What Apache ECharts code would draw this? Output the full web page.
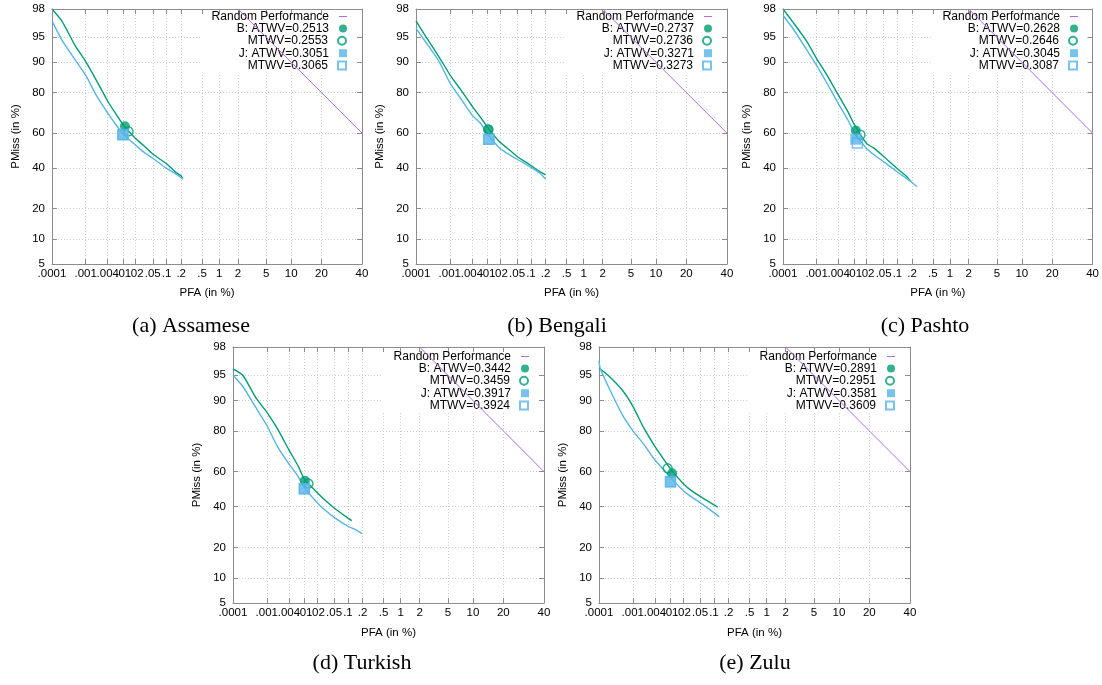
<!DOCTYPE html>
<html><head><meta charset="utf-8">
<script src="https://cdn.jsdelivr.net/npm/echarts@6/dist/echarts.min.js"></script>
<style>html,body{margin:0;padding:0;background:#fff}#c{width:1102px;height:685px}</style>
</head><body><div id="c"></div><script>
// ---------- data (values in %) ----------
const pfaTicks = [0.0001, 0.001, 0.004, 0.01, 0.02, 0.05, 0.1, 0.2, 0.5, 1, 2, 5, 10, 20, 40];
const pfaTickLabels = ['.0001', '.001', '.004', '.01', '.02', '.05', '.1', '.2', '.5', '1', '2', '5', '10', '20', '40'];
const pmissTicks = [5, 10, 20, 40, 60, 80, 90, 95, 98];
const pmissTickLabels = ['5', '10', '20', '40', '60', '80', '90', '95', '98'];
const captions = ['(a) Assamese', '(b) Bengali', '(c) Pashto', '(d) Turkish', '(e) Zulu'];
const randomLabel = 'Random Performance';
const randomPFA = [2, 40];
const randomPMiss = [98, 60];

// Assamese
const assameseB_pfa   = [0.0001, 0.0002, 0.0005, 0.001, 0.002, 0.004, 0.007, 0.01, 0.02, 0.03, 0.05, 0.1, 0.15, 0.2, 0.215];
const assameseB_pmiss = [98, 97, 93.6, 90.2, 84.5, 76.3, 69.3, 64.5, 57, 53.2, 48, 42.4, 38, 35.6, 34];
const assameseJ_pfa   = [0.0001, 0.0002, 0.0005, 0.001, 0.002, 0.004, 0.007, 0.01, 0.02, 0.03, 0.05, 0.1, 0.15, 0.2, 0.215];
const assameseJ_pmiss = [97, 94.6, 90.6, 86.3, 78.7, 70.7, 63.8, 59.3, 53.2, 49.4, 45.6, 39.8, 37, 34.7, 34];
const assameseLabels  = ['B: ATWV=0.2513', 'MTWV=0.2553', 'J: ATWV=0.3051', 'MTWV=0.3065'];
const assamesePts_pfa   = [0.011, 0.0135, 0.0097, 0.0099];
const assamesePts_pmiss = [63.8, 61, 59, 59.2];

// Bengali
const bengaliB_pfa   = [0.0001, 0.0002, 0.0005, 0.001, 0.002, 0.004, 0.007, 0.01, 0.02, 0.03, 0.05, 0.1, 0.15, 0.2];
const bengaliB_pmiss = [97, 95.1, 91.2, 86.5, 81.2, 74.2, 68, 63.2, 54.9, 51.4, 46.6, 41.4, 38.2, 36.2];
const bengaliJ_pfa   = [0.0001, 0.0002, 0.0005, 0.001, 0.002, 0.004, 0.007, 0.01, 0.02, 0.03, 0.05, 0.1, 0.15, 0.2];
const bengaliJ_pmiss = [96.2, 94.2, 90.1, 83.8, 77.5, 69.8, 64.9, 59.4, 51.4, 48.4, 45, 40.4, 37.4, 34];
const bengaliLabels  = ['B: ATWV=0.2737', 'MTWV=0.2736', 'J: ATWV=0.3271', 'MTWV=0.3273'];
const bengaliPts_pfa   = [0.0105, 0.0105, 0.0108, 0.0108];
const bengaliPts_pmiss = [62, 62, 56.5, 56.5];

// Pashto
const pashtoB_pfa   = [0.0001, 0.0002, 0.0005, 0.001, 0.002, 0.004, 0.007, 0.01, 0.02, 0.03, 0.05, 0.1, 0.15, 0.19];
const pashtoB_pmiss = [98, 96.9, 94.5, 90.9, 86.1, 78.7, 71.3, 64.8, 54.2, 51.4, 46.6, 39.6, 35.8, 32.7];
const pashtoJ_pfa   = [0.0001, 0.0002, 0.0005, 0.001, 0.002, 0.004, 0.007, 0.01, 0.02, 0.03, 0.05, 0.1, 0.15, 0.2, 0.25];
const pashtoJ_pmiss = [97.5, 96.2, 93, 89.2, 83.3, 75, 67, 60.5, 51.2, 47.6, 43.6, 37.8, 34.6, 32.2, 30];
const pashtoLabels  = ['B: ATWV=0.2628', 'MTWV=0.2646', 'J: ATWV=0.3045', 'MTWV=0.3087'];
const pashtoPts_pfa   = [0.011, 0.0143, 0.011, 0.012];
const pashtoPts_pmiss = [61.5, 59.1, 56.6, 54.4];

// Turkish
const turkishB_pfa   = [0.0001, 0.0002, 0.0005, 0.001, 0.002, 0.004, 0.007, 0.01, 0.02, 0.03, 0.05, 0.1, 0.12];
const turkishB_pmiss = [95.9, 95, 90.5, 86.7, 80.7, 71.5, 62.9, 55.6, 48.2, 44, 39.3, 33.8, 32.5];
const turkishJ_pfa   = [0.0001, 0.0002, 0.0005, 0.001, 0.002, 0.004, 0.007, 0.01, 0.02, 0.03, 0.05, 0.1, 0.15, 0.195];
const turkishJ_pmiss = [95, 93.1, 87.9, 82.2, 72.9, 64.2, 57.1, 50.6, 42.5, 38.4, 34.2, 29.6, 27.7, 26];
const turkishLabels  = ['B: ATWV=0.3442', 'MTWV=0.3459', 'J: ATWV=0.3917', 'MTWV=0.3924'];
const turkishPts_pfa   = [0.0102, 0.0125, 0.0099, 0.0099];
const turkishPts_pmiss = [54.8, 53.2, 50.2, 50.2];

// Zulu
const zuluB_pfa   = [0.0001, 0.0002, 0.0005, 0.001, 0.002, 0.004, 0.007, 0.01, 0.02, 0.03, 0.05, 0.1, 0.12];
const zuluB_pmiss = [96, 94.9, 92.4, 88.5, 81.3, 73.2, 66.2, 61.5, 53.4, 49.6, 45.8, 41, 39.8];
const zuluJ_pfa   = [0.0001, 0.00011, 0.0002, 0.0005, 0.001, 0.002, 0.004, 0.007, 0.01, 0.02, 0.03, 0.05, 0.1, 0.13];
const zuluJ_pmiss = [96.8, 95.9, 92.9, 85.9, 80.1, 74.2, 66.3, 60.8, 56.6, 49.4, 46, 42.3, 36.7, 34.4];
const zuluLabels  = ['B: ATWV=0.2891', 'MTWV=0.2951', 'J: ATWV=0.3581', 'MTWV=0.3609'];
const zuluPts_pfa   = [0.011, 0.0085, 0.01, 0.01];
const zuluPts_pmiss = [59.1, 61.8, 54.2, 54.2];

// ---------- layout / style ----------
const panels = [
  {bp: assameseB_pfa, bm: assameseB_pmiss, jp: assameseJ_pfa, jm: assameseJ_pmiss, labels: assameseLabels, pp: assamesePts_pfa, pm: assamesePts_pmiss},
  {bp: bengaliB_pfa, bm: bengaliB_pmiss, jp: bengaliJ_pfa, jm: bengaliJ_pmiss, labels: bengaliLabels, pp: bengaliPts_pfa, pm: bengaliPts_pmiss},
  {bp: pashtoB_pfa, bm: pashtoB_pmiss, jp: pashtoJ_pfa, jm: pashtoJ_pmiss, labels: pashtoLabels, pp: pashtoPts_pfa, pm: pashtoPts_pmiss},
  {bp: turkishB_pfa, bm: turkishB_pmiss, jp: turkishJ_pfa, jm: turkishJ_pmiss, labels: turkishLabels, pp: turkishPts_pfa, pm: turkishPts_pmiss},
  {bp: zuluB_pfa, bm: zuluB_pmiss, jp: zuluJ_pfa, jm: zuluJ_pmiss, labels: zuluLabels, pp: zuluPts_pfa, pm: zuluPts_pmiss}
];
const boxes = [
  {left: 52, top: 9, width: 310, height: 255, capX: 191, capY: 326},
  {left: 416, top: 9, width: 311, height: 255, capX: 557, capY: 326},
  {left: 783, top: 9, width: 310, height: 255, capX: 925, capY: 326},
  {left: 233, top: 347, width: 311, height: 256, capX: 362, capY: 663},
  {left: 599, top: 347, width: 311, height: 256, capX: 755, capY: 663}
];
const GREEN = '#009e73', BLUE = '#56b4e9', PURPLE = 'rgb(179,106,226)';
const AXIS = '#8c8c8c', GRID = '#cfcfcf';
const FONT = 'Liberation Sans, Arial, sans-serif';

// inverse normal CDF (probit) used as the DET axis transform
function probit(p) {
  const a = [-3.969683028665376e+01, 2.209460984245205e+02, -2.759285104469687e+02, 1.383577518672690e+02, -3.066479806614716e+01, 2.506628277459239e+00];
  const b = [-5.447609879822406e+01, 1.615858368580409e+02, -1.556989798598866e+02, 6.680131188771972e+01, -1.328068155288572e+01];
  const c = [-7.784894002430293e-03, -3.223964580411365e-01, -2.400758277161838e+00, -2.549732539343734e+00, 4.374664141464968e+00, 2.938163982698783e+00];
  const d = [7.784695709041462e-03, 3.224671290700398e-01, 2.445134137142996e+00, 3.754408661907416e+00];
  const pl = 0.02425;
  let q, r;
  if (p < pl) {
    q = Math.sqrt(-2 * Math.log(p));
    return (((((c[0]*q+c[1])*q+c[2])*q+c[3])*q+c[4])*q+c[5]) / ((((d[0]*q+d[1])*q+d[2])*q+d[3])*q+1);
  }
  if (p <= 1 - pl) {
    q = p - 0.5; r = q * q;
    return (((((a[0]*r+a[1])*r+a[2])*r+a[3])*r+a[4])*r+a[5])*q / (((((b[0]*r+b[1])*r+b[2])*r+b[3])*r+b[4])*r+1);
  }
  q = Math.sqrt(-2 * Math.log(1 - p));
  return -(((((c[0]*q+c[1])*q+c[2])*q+c[3])*q+c[4])*q+c[5]) / ((((d[0]*q+d[1])*q+d[2])*q+d[3])*q+1);
}
const P = v => probit(v / 100);
const xVals = pfaTicks.map(P), yVals = pmissTicks.map(P);
const xMin = xVals[0], xMax = xVals[xVals.length - 1];
const yMin = yVals[0], yMax = yVals[yVals.length - 1];
function labelFor(vals, labels) {
  return v => { for (let i = 0; i < vals.length; i++) if (Math.abs(vals[i] - v) < 1e-6) return labels[i]; return ''; };
}
const pairs = (xs, ys) => xs.map((x, i) => [P(x), P(ys[i])]);

const grids = [], xAxes = [], yAxes = [], series = [], legends = [], graphics = [];
const txt = {color: '#000', fontFamily: FONT, fontSize: 11.5};

panels.forEach((pn, i) => {
  const bx = boxes[i];
  grids.push({left: bx.left, top: bx.top, width: bx.width, height: bx.height, containLabel: false});
  xAxes.push({
    type: 'value', gridIndex: i, position: 'bottom', min: xMin, max: xMax, z: 0,
    axisLine: {show: true, onZero: false, lineStyle: {color: AXIS, width: 1}},
    axisTick: {show: true, inside: true, length: 5, customValues: xVals, lineStyle: {color: AXIS}},
    axisLabel: {show: true, customValues: xVals, formatter: labelFor(xVals, pfaTickLabels), margin: 4, hideOverlap: false, showMinLabel: true, showMaxLabel: true, ...txt},
    splitLine: {show: true, lineStyle: {color: GRID, type: [1, 2], width: 1}},
    name: 'PFA (in %)', nameLocation: 'middle', nameGap: i < 3 ? 23 : 24, nameTextStyle: txt
  });
  xAxes.push({
    type: 'value', gridIndex: i, position: 'top', min: xMin, max: xMax, z: 3,
    axisLine: {show: true, onZero: false, lineStyle: {color: AXIS, width: 1}},
    axisTick: {show: true, inside: true, length: 5, customValues: xVals, lineStyle: {color: AXIS}},
    axisLabel: {show: false}, splitLine: {show: false}
  });
  yAxes.push({
    type: 'value', gridIndex: i, position: 'left', min: yMin, max: yMax, z: 0,
    axisLine: {show: true, onZero: false, lineStyle: {color: AXIS, width: 1}},
    axisTick: {show: true, inside: true, length: 5, customValues: yVals, lineStyle: {color: AXIS}},
    axisLabel: {show: true, customValues: yVals, formatter: labelFor(yVals, pmissTickLabels), margin: 7, hideOverlap: false, showMinLabel: true, showMaxLabel: true, ...txt},
    splitLine: {show: true, lineStyle: {color: GRID, type: [1, 2], width: 1}},
    name: 'PMiss (in %)', nameLocation: 'middle', nameGap: 30, nameTextStyle: txt
  });
  yAxes.push({
    type: 'value', gridIndex: i, position: 'right', min: yMin, max: yMax, z: 3,
    axisLine: {show: true, onZero: false, lineStyle: {color: AXIS, width: 1}},
    axisTick: {show: true, inside: true, length: 5, customValues: yVals, lineStyle: {color: AXIS}},
    axisLabel: {show: false}, splitLine: {show: false}
  });
  const xi = 2 * i, yi = 2 * i;
  const right = bx.left + bx.width;
  // opaque key box (hides the grid behind the key)
  graphics.push({type: 'rect', z: 1, silent: true,
    shape: {x: right - 162, y: bx.top + 1, width: 161, height: 65},
    style: {fill: '#fff'}});
  graphics.push({type: 'text', z: 5, x: bx.capX, y: bx.capY,
    style: {text: captions[i], font: '22px "Liberation Serif", "Times New Roman", serif', fill: '#000', textAlign: 'center', textVerticalAlign: 'middle'}});

  series.push({id: 'b' + i, type: 'line', xAxisIndex: xi, yAxisIndex: yi, z: 2, color: GREEN,
    data: pairs(pn.bp, pn.bm), smooth: 0.2, showSymbol: false, symbol: 'none',
    lineStyle: {color: GREEN, width: 1.4}});
  series.push({id: 'j' + i, type: 'line', xAxisIndex: xi, yAxisIndex: yi, z: 2, color: BLUE,
    data: pairs(pn.jp, pn.jm), smooth: 0.2, showSymbol: false, symbol: 'none',
    lineStyle: {color: BLUE, width: 1.4}});
  const syms = ['circle', 'circle', 'rect', 'rect'];
  const cols = [GREEN, GREEN, BLUE, BLUE];
  const sizes = [10, 9, 11, 10];
  pn.labels.forEach((lab, k) => {
    const hollow = k % 2 === 1;
    series.push({name: lab, type: 'scatter', xAxisIndex: xi, yAxisIndex: yi, z: 3,
      symbol: syms[k], symbolSize: sizes[k], color: cols[k],
      itemStyle: hollow ? {color: 'rgba(255,255,255,0)', borderColor: cols[k], borderWidth: 1.5} : {color: cols[k]},
      data: [[P(pn.pp[k]), P(pn.pm[k])]]});
  });
  series.push({id: 'rand' + i, name: randomLabel, type: 'line', xAxisIndex: xi, yAxisIndex: yi, z: 4,
    color: PURPLE, data: pairs(randomPFA, randomPMiss), showSymbol: false, symbol: 'none',
    lineStyle: {color: PURPLE, width: 1}});
  const names = [randomLabel].concat(pn.labels);
  const topBase = i < 3 ? 16 : 356;
  names.forEach((nm, k) => {
    const isLine = k === 0;
    legends.push({data: [isLine ? {name: nm, icon: 'rect'} : nm], orient: 'horizontal', align: 'right', selectedMode: false,
      right: 1102 - right + 15, top: topBase + 12.4 * k - (isLine ? 6.5 : 7), padding: 0, itemGap: 0,
      itemWidth: 8, itemHeight: isLine ? 1 : 8,
      textStyle: {color: '#000', fontFamily: FONT, fontSize: 12, lineHeight: 14, padding: [0, 5, 0, 0]}});
  });
});

const chart = echarts.init(document.getElementById('c'), null, {renderer: 'canvas'});
chart.setOption({
  animation: false, backgroundColor: '#fff',
  grid: grids, xAxis: xAxes, yAxis: yAxes, series: series, legend: legends,
  graphic: {elements: graphics}
});
</script></body></html>
